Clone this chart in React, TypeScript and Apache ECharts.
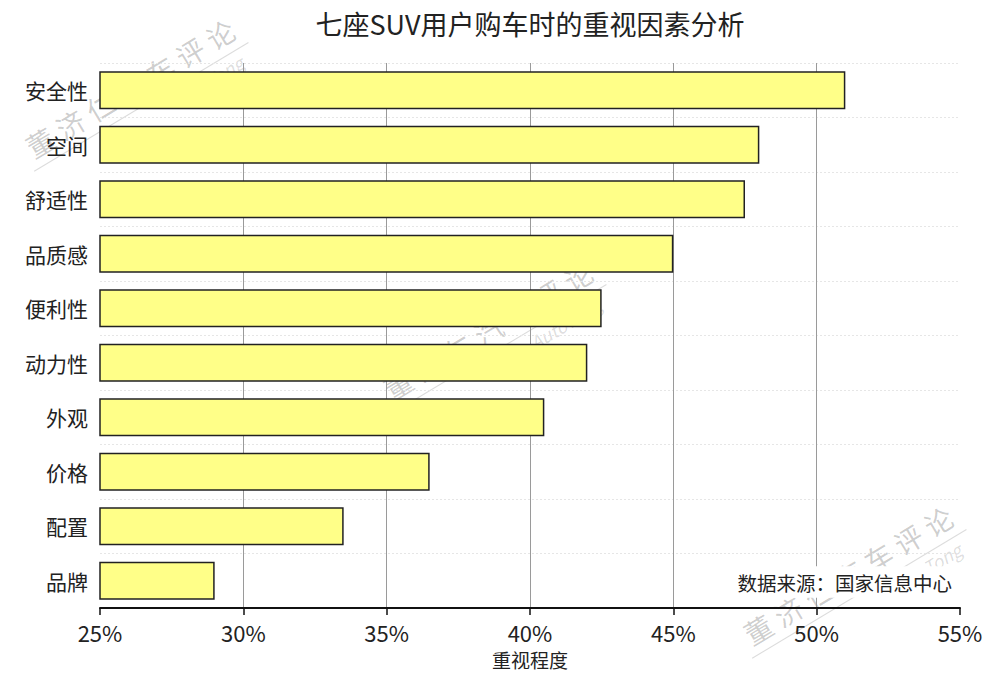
import React, { useEffect, useRef } from "react";
import * as echarts from "echarts";

const categories = ["安全性", "空间", "舒适性", "品质感", "便利性", "动力性", "外观", "价格", "配置", "品牌"];
const values = [51, 48, 47.5, 45, 42.5, 42, 40.5, 36.5, 33.5, 29];
const xTicks = [25, 30, 35, 40, 45, 50, 55];
const titleText = "七座SUV用户购车时的重视因素分析";
const sourceText = "数据来源：国家信息中心";
const axisName = "重视程度";
const watermarkMain = "董济仁汽车评论";
const watermarkSub = "AutoTong";

const FONT = '"Noto Sans CJK SC", "Noto Sans", sans-serif';

function watermark(cx: number, cy: number) {
  const chars = Array.from(watermarkMain);
  const step = 35;
  const start = -((chars.length - 1) * step) / 2;
  const charEls = chars.map((c, i) => ({
    type: "text",
    x: start + i * step,
    y: 0,
    style: {
      text: c,
      font: `28px ${FONT}`,
      fill: "rgba(0,0,0,0.2)",
      align: "center",
      verticalAlign: "middle",
    },
  }));
  return {
    type: "group",
    x: cx,
    y: cy,
    rotation: (31 * Math.PI) / 180,
    silent: true,
    z: 100,
    children: [
      ...charEls,
      {
        type: "line",
        shape: { x1: -125, y1: 22, x2: 125, y2: 22 },
        style: { stroke: "rgba(0,0,0,0.14)", lineWidth: 1 },
      },
      {
        type: "text",
        x: 70,
        y: 34,
        style: {
          text: watermarkSub,
          font: `italic 18px ${FONT}`,
          fill: "rgba(0,0,0,0.14)",
          align: "center",
          verticalAlign: "middle",
        },
      },
    ],
  };
}

export default function App() {
  const ref = useRef<HTMLDivElement>(null);
  useEffect(() => {
    if (!ref.current) return;
    const chart = echarts.init(ref.current, null, { renderer: "svg" });
    const cats = [...categories].reverse();
    const vals = [...values].reverse();
    chart.setOption({
      animation: false,
      backgroundColor: "#fff",
      textStyle: { fontFamily: FONT },
      grid: { left: 100, right: 40, top: 63, bottom: 65, containLabel: false, outerBoundsMode: "none" },
      xAxis: {
        type: "value",
        min: xTicks[0],
        max: xTicks[xTicks.length - 1],
        interval: 5,
        name: axisName,
        nameLocation: "middle",
        nameGap: 42,
        nameTextStyle: { fontSize: 19, color: "#222", fontFamily: FONT },
        axisLine: { show: true, lineStyle: { color: "#111", width: 2 } },
        axisTick: { show: true, length: 7, lineStyle: { color: "#111", width: 1.5 } },
        axisLabel: {
          fontSize: 22,
          color: "#222",
          margin: 13,
          fontFamily: FONT,
          formatter: (v: number) => `${v}%`,
        },
        splitLine: {
          show: true,
          showMinLine: false,
          showMaxLine: false,
          lineStyle: { color: "#9a9a9a", width: 1 },
        },
      },
      yAxis: {
        type: "category",
        data: cats,
        axisLine: { show: false },
        axisTick: { show: false },
        axisLabel: { fontSize: 21, color: "#222", margin: 12, fontFamily: FONT },
        splitLine: { show: true, lineStyle: { color: "#e6e6e6", width: 1, type: [2, 2] } },
      },
      series: [
        {
          type: "bar",
          data: vals,
          barWidth: "70%",
          itemStyle: { color: "#FFFF88", borderColor: "#222", borderWidth: 1.5 },
        },
      ],
      graphic: [
        {
          type: "text",
          x: 530,
          y: 23,
          style: { text: titleText, font: `27px ${FONT}`, fill: "#222", align: "center", verticalAlign: "middle" },
        },
        {
          type: "text",
          x: 955,
          y: 582,
          z: 50,
          style: {
            text: sourceText,
            font: `19.5px ${FONT}`,
            fill: "#222",
            align: "right",
            verticalAlign: "middle",
            backgroundColor: "#fff",
            padding: [6, 3, 6, 3],
          },
        },
        watermark(130, 88),
        watermark(488, 330),
        watermark(848, 575),
      ],
    });
    return () => chart.dispose();
  }, []);
  return <div ref={ref} style={{ width: 1000, height: 673, position: "absolute", left: 0, top: 0 }} />;
}
